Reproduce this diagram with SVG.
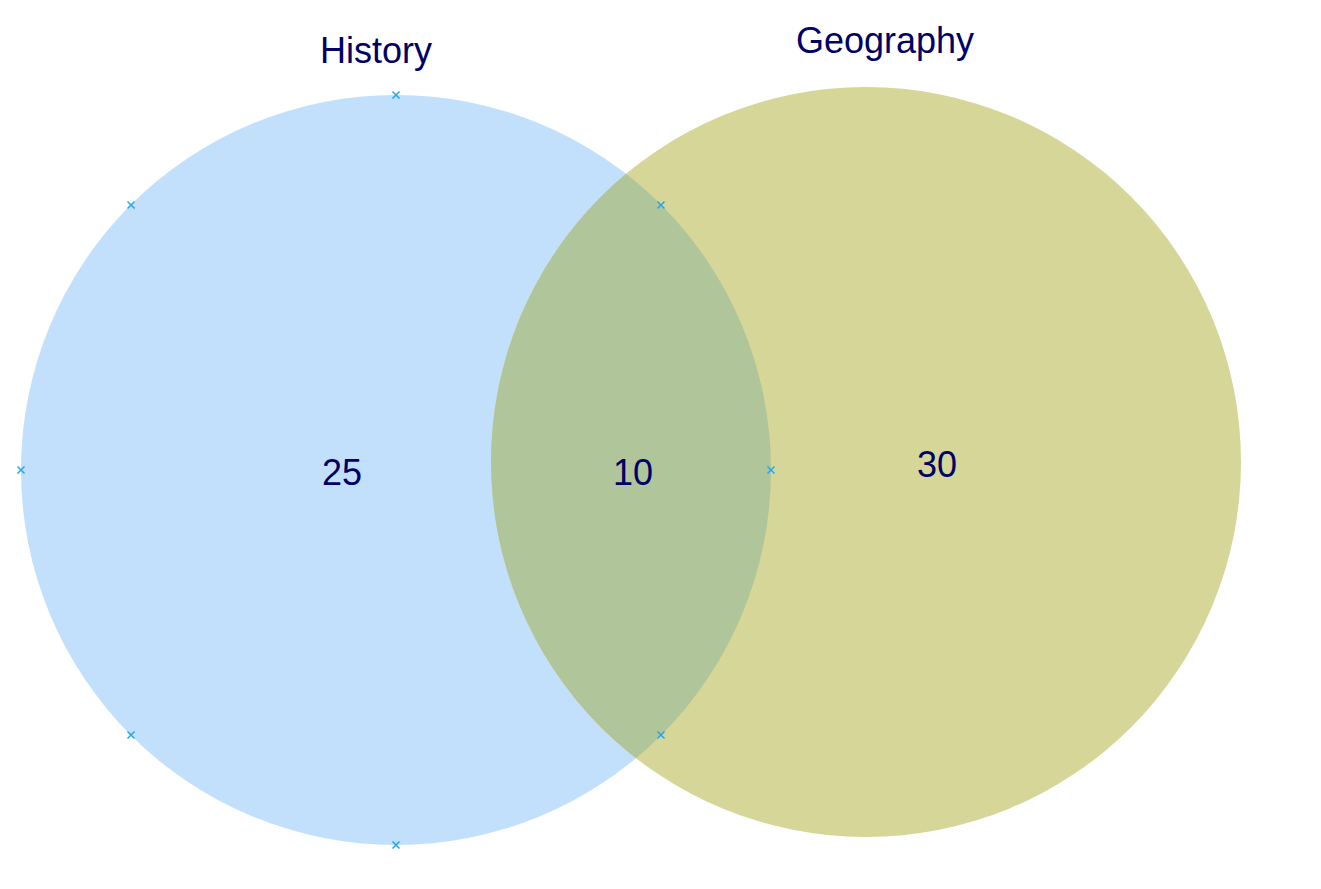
<svg xmlns="http://www.w3.org/2000/svg" width="1321" height="889" viewBox="0 0 1321 889">
  <style>
    .lbl { font-family: "Liberation Sans", Arial, sans-serif; font-size: 36px; fill: #000066; text-anchor: middle; }
    .num { font-family: "Liberation Sans", Arial, sans-serif; font-size: 36px; fill: #000066; text-anchor: middle; }
    .mk { stroke: #22a6ee; stroke-width: 1.5; fill: none; }
  </style>
  <defs>
    <clipPath id="c1clip"><circle cx="396" cy="470" r="375"/></clipPath>
    <path id="x" d="M-3.5,-3.5 L3.5,3.5 M-3.5,3.5 L3.5,-3.5"/>
  </defs>
  <rect width="1321" height="889" fill="#ffffff"/>
  <g id="history">
    <circle cx="396" cy="470" r="375" fill="#c2e0fc"/>
    <text class="lbl" x="376" y="63">History</text>
  </g>
  <g id="geography">
    <circle cx="866" cy="462" r="375" fill="#d6d699"/>
    <text class="lbl" x="885" y="53">Geography</text>
  </g>
  <g id="overlap">
    <circle cx="866" cy="462" r="375" fill="#b1c59a" clip-path="url(#c1clip)"/>
  </g>
  <g id="counts">
    <text class="num" x="342" y="485">25</text>
    <text class="num" x="633" y="485">10</text>
    <text class="num" x="937" y="477">30</text>
  </g>
  <g id="markers" class="mk">
    <use href="#x" x="396" y="95"/>
    <use href="#x" x="131" y="205"/>
    <use href="#x" x="21" y="470"/>
    <use href="#x" x="131" y="735"/>
    <use href="#x" x="396" y="845"/>
    <use href="#x" x="661" y="735"/>
    <use href="#x" x="771" y="470"/>
    <use href="#x" x="661" y="205"/>
  </g>
</svg>
